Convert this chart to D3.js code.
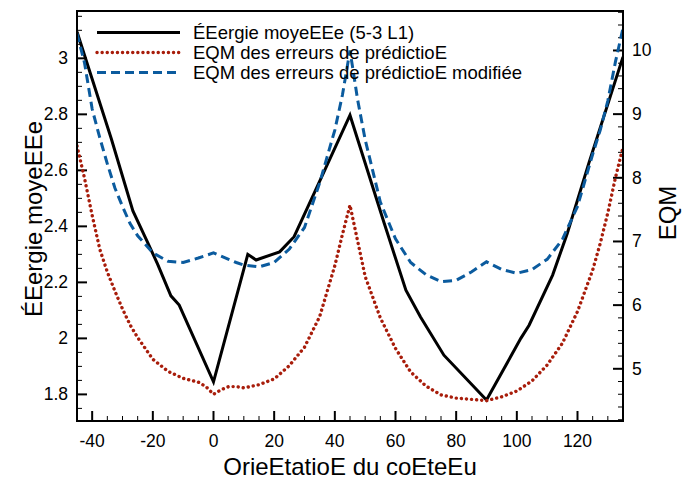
<!DOCTYPE html>
<html><head><meta charset="utf-8">
<script src="https://cdn.jsdelivr.net/npm/d3@7"></script>
<style>
html,body{margin:0;padding:0;background:#fff;}
svg text{font-family:"Liberation Sans",Arial,Helvetica,sans-serif;fill:#000;}
</style></head>
<body><svg id="c" width="684" height="480"></svg>
<script>
// Energy (left axis) at lattice orientations
const energyAngles = [-45, -33.69, -26.57, -21.8, -18.43, -14.04, -11.31, 0, 11.31, 14.04, 21.8, 26.57, 33.69, 45, 56.31, 63.43, 68.2, 75.96, 90, 101.31, 104.04, 111.8, 116.57, 123.69, 135];
const energyValues = [3.095, 2.713, 2.455, 2.345, 2.265, 2.152, 2.119, 1.845, 2.30, 2.28, 2.309, 2.363, 2.53, 2.797, 2.41, 2.172, 2.077, 1.94, 1.78, 2.0, 2.047, 2.226, 2.373, 2.624, 3.005];
// EQM series (right axis)
const eqmAngles = [-45, -42.5, -40, -37.5, -35, -32.5, -30, -27.5, -25, -20, -15, -10, -5, -2.5, 0, 2.5, 5, 7.5, 10, 15, 20, 25, 30, 35, 40, 42.5, 45, 47.5, 50, 55, 60, 65, 70, 75, 80, 85, 90, 95, 100, 105, 110, 115, 120, 125, 127.5, 130, 132.5, 135];
const eqmValues = [8.50, 7.99, 7.41, 6.88, 6.52, 6.22, 5.94, 5.69, 5.49, 5.15, 4.96, 4.85, 4.79, 4.72, 4.60, 4.67, 4.72, 4.72, 4.70, 4.75, 4.84, 5.05, 5.34, 5.82, 6.62, 7.11, 7.57, 7.01, 6.45, 5.80, 5.32, 4.95, 4.73, 4.59, 4.54, 4.52, 4.50, 4.56, 4.65, 4.81, 5.06, 5.40, 5.90, 6.55, 6.97, 7.45, 8.00, 8.48];
const eqmModValues = [10.27, 9.80, 9.08, 8.63, 8.22, 7.84, 7.55, 7.28, 7.09, 6.82, 6.69, 6.67, 6.74, 6.78, 6.82, 6.77, 6.72, 6.67, 6.63, 6.60, 6.67, 6.88, 7.22, 7.92, 8.75, 9.30, 10.0, 9.23, 8.60, 7.62, 7.04, 6.67, 6.48, 6.37, 6.39, 6.52, 6.68, 6.56, 6.50, 6.56, 6.72, 7.03, 7.55, 8.37, 8.75, 9.21, 9.82, 10.35];
const xTickLabels = [-40, -20, 0, 20, 40, 60, 80, 100, 120];
const yLeftTickLabels = [1.8, 2, 2.2, 2.4, 2.6, 2.8, 3];
const yRightTickLabels = [5, 6, 7, 8, 9, 10];
const seriesNames = ["ÉEergie moyeEEe (5-3 L1)", "EQM des erreurs de prédictioE", "EQM des erreurs de prédictioE modifiée"];
const titles = {x: "OrieEtatioE du coEteEu", yl: "ÉEergie moyeEEe", yr: "EQM"};

const L = 77, R = 623, T = 11, B = 421;
const svg = d3.select("#c");
const x = d3.scaleLinear().domain([-45, 135]).range([L, R]);
const yl = d3.scaleLinear().domain([1.705, 3.169]).range([B, T]);
const yr = d3.scaleLinear().domain([4.18, 10.62]).range([B, T]);

const red = "#a81d0b", blue = "#0b5b9e";
const tickFont = 17.5;

// Ticks
const gx = svg.append("g");
const xMinor = d3.range(-40, 135, 5);
gx.selectAll("line").data(xMinor).join("line")
  .attr("x1", d => x(d)).attr("x2", d => x(d))
  .attr("y1", B).attr("y2", d => B - (d % 20 === 0 ? 10 : 5))
  .attr("stroke", "#000").attr("stroke-width", d => d % 20 === 0 ? 2 : 1);
gx.selectAll("text").data(xTickLabels).join("text")
  .attr("x", d => x(d)).attr("y", 447).attr("text-anchor", "middle")
  .attr("font-size", tickFont).text(d => d);

const gl = svg.append("g");
const ylMinor = d3.range(1.75, 3.17, 0.05).map(v => +v.toFixed(2));
gl.selectAll("line").data(ylMinor).join("line")
  .attr("x1", L).attr("x2", d => L + (Math.round(d * 100) % 20 === 0 ? 10 : 5))
  .attr("y1", d => yl(d)).attr("y2", d => yl(d))
  .attr("stroke", "#000").attr("stroke-width", d => Math.round(d * 100) % 20 === 0 ? 2 : 1);
gl.selectAll("text").data(yLeftTickLabels).join("text")
  .attr("x", 68).attr("y", d => yl(d) + 6).attr("text-anchor", "end")
  .attr("font-size", tickFont).text(d => d);

const gr = svg.append("g");
const yrMinor = d3.range(4.2, 10.61, 0.2).map(v => +v.toFixed(1));
gr.selectAll("line").data(yrMinor).join("line")
  .attr("x1", R).attr("x2", d => R - (Math.abs(d - Math.round(d)) < 1e-6 ? 10 : 5))
  .attr("y1", d => yr(d)).attr("y2", d => yr(d))
  .attr("stroke", "#000").attr("stroke-width", d => Math.abs(d - Math.round(d)) < 1e-6 ? 2 : 1);
gr.selectAll("text").data(yRightTickLabels).join("text")
  .attr("x", 632).attr("y", d => yr(d) + 6).attr("text-anchor", "start")
  .attr("font-size", tickFont).text(d => d);

// Clip
svg.append("clipPath").attr("id", "clip").append("rect")
  .attr("x", L).attr("y", T).attr("width", R - L).attr("height", B - T);
const plot = svg.append("g").attr("clip-path", "url(#clip)");

const lineL = d3.line().x(d => x(d[0])).y(d => yl(d[1]));
const lineR = d3.line().x(d => x(d[0])).y(d => yr(d[1]));

plot.append("path").datum(energyAngles.map((a, i) => [a, energyValues[i]]))
  .attr("d", lineL).attr("fill", "none").attr("stroke", "#000").attr("stroke-width", 3)
  .attr("stroke-linejoin", "miter");
plot.append("path").datum(eqmAngles.map((a, i) => [a, eqmValues[i]]))
  .attr("d", lineR).attr("fill", "none").attr("stroke", red).attr("stroke-width", 3.4)
  .attr("stroke-dasharray", "0.1 5").attr("stroke-linecap", "round");
plot.append("path").datum(eqmAngles.map((a, i) => [a, eqmModValues[i]]))
  .attr("d", lineR).attr("fill", "none").attr("stroke", blue).attr("stroke-width", 3)
  .attr("stroke-dasharray", "9 5");

// Frame
svg.append("rect").attr("x", L).attr("y", T).attr("width", R - L).attr("height", B - T)
  .attr("fill", "none").attr("stroke", "#000").attr("stroke-width", 2);

// Legend
const leg = svg.append("g");
const rows = [32.5, 52.5, 72.5];
const styles = [
  {stroke: "#000", w: 3, dash: null, cap: "butt"},
  {stroke: red, w: 3.4, dash: "0.1 5", cap: "round"},
  {stroke: blue, w: 3, dash: "9 5", cap: "butt"}
];
seriesNames.forEach((n, i) => {
  leg.append("line").attr("x1", 97).attr("x2", 180).attr("y1", rows[i]).attr("y2", rows[i])
    .attr("stroke", styles[i].stroke).attr("stroke-width", styles[i].w)
    .attr("stroke-dasharray", styles[i].dash).attr("stroke-linecap", styles[i].cap);
  leg.append("text").attr("x", 193).attr("y", rows[i] + 6.5).attr("font-size", 18.5).text(n);
});

// Axis titles
svg.append("text").attr("x", (L + R) / 2).attr("y", 475).attr("text-anchor", "middle")
  .attr("font-size", 24).text(titles.x);
svg.append("text").attr("transform", "translate(42," + ((T + B) / 2 + 3) + ") rotate(-90)")
  .attr("text-anchor", "middle").attr("font-size", 24).text(titles.yl);
svg.append("text").attr("transform", "translate(676,213) rotate(-90)")
  .attr("text-anchor", "middle").attr("font-size", 24).text(titles.yr);
</script></body></html>
